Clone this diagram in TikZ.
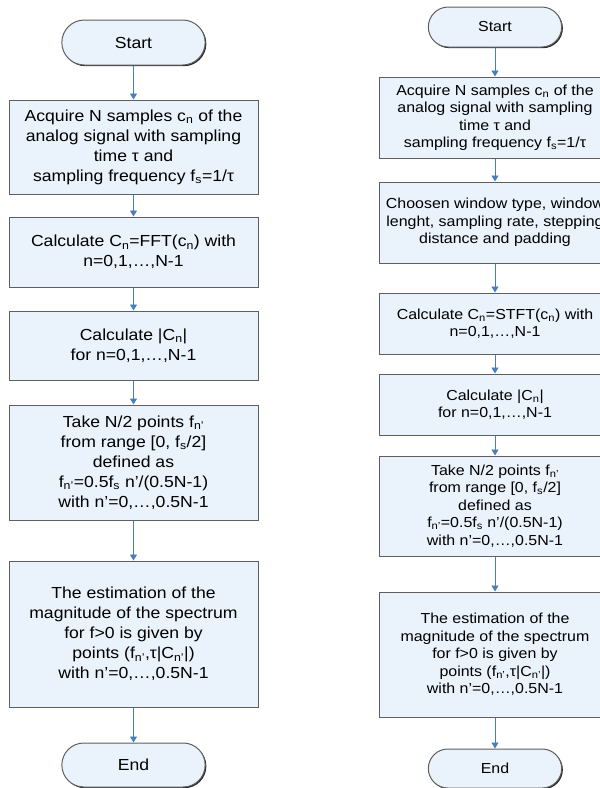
\documentclass[tikz,border=0pt]{standalone}
\usepackage{fontspec}
\setmainfont[FakeStretch=1.1]{Liberation Sans}
\usepackage{tikz}
\usetikzlibrary{shapes.misc,arrows.meta,shadows}

\definecolor{boxfill}{RGB}{234,242,252}
\definecolor{boxline}{RGB}{95,95,95}
\definecolor{boxshade}{RGB}{40,40,40}
\definecolor{arrowblue}{RGB}{74,126,187}

\tikzset{
  procbox/.style={draw=boxline,line width=1pt,fill=boxfill,align=center,
    inner xsep=2pt,
    drop shadow={shadow xshift=1.2pt,shadow yshift=-1.2pt,fill=boxshade,opacity=1}},
  termbox/.style={draw=boxline,line width=1pt,fill=boxfill,rounded rectangle,
    align=center,
    drop shadow={shadow xshift=1.2pt,shadow yshift=-1.2pt,fill=boxshade,opacity=1}},
  flowarrow/.style={draw=arrowblue,line width=0.9pt,
    -{Triangle[width=7pt,length=6pt]}},
  lefttext/.style={font=\fontsize{16}{20}\selectfont},
  righttext/.style={font=\fontsize{14.5}{17.5}\selectfont}
}

\begin{document}
\begin{tikzpicture}[x=1pt,y=-1pt]
  \useasboundingbox (0,0) rectangle (600,788);
  \clip (0,0) rectangle (600,788);

  %% Left flowchart: FFT
  \node[termbox,lefttext,minimum width=150,minimum height=45] (LS) at (133.5,42.5) {Start};
  \node[procbox,lefttext,minimum width=249,minimum height=94] (L1) at (133.5,147)
    {Acquire N samples c\textsubscript{n} of the\\analog signal with sampling\\time τ and\\sampling frequency f\textsubscript{s}=1/τ};
  \node[procbox,lefttext,minimum width=249,minimum height=70] (L2) at (133.5,252)
    {Calculate C\textsubscript{n}=FFT(c\textsubscript{n}) with\\n=0,1,…,N-1};
  \node[procbox,lefttext,minimum width=249,minimum height=69] (L3) at (133.5,345.5)
    {Calculate |C\textsubscript{n}|\\for n=0,1,…,N-1};
  \node[procbox,lefttext,minimum width=249,minimum height=115] (L4) at (133.5,462.5)
    {Take N/2 points f\textsubscript{n'}\\from range [0, f\textsubscript{s}/2]\\defined as\\f\textsubscript{n'}=0.5f\textsubscript{s} n'/(0.5N-1)\\with n'=0,…,0.5N-1};
  \node[procbox,lefttext,minimum width=249,minimum height=146] (L5) at (133.5,634)
    {The estimation of the\\magnitude of the spectrum\\for f>0 is given by\\points (f\textsubscript{n'},τ|C\textsubscript{n'}|)\\with n'=0,…,0.5N-1};
  \node[termbox,lefttext,minimum width=150,minimum height=44] (LE) at (133.5,765) {End};

  %% Right flowchart: STFT
  \node[termbox,righttext,minimum width=140,minimum height=40] (RS) at (495,27) {Start};
  \node[procbox,righttext,minimum width=232,minimum height=81] (R1) at (495,117.5)
    {Acquire N samples c\textsubscript{n} of the\\analog signal with sampling\\time τ and\\sampling frequency f\textsubscript{s}=1/τ};
  \node[procbox,righttext,minimum width=232,minimum height=81] (R2) at (495,222.5)
    {Choosen window type, window\\lenght, sampling rate, stepping\\distance and padding};
  \node[procbox,righttext,minimum width=232,minimum height=61] (R3) at (495,323.5)
    {Calculate C\textsubscript{n}=STFT(c\textsubscript{n}) with\\n=0,1,…,N-1};
  \node[procbox,righttext,minimum width=232,minimum height=61] (R4) at (495,404.5)
    {Calculate |C\textsubscript{n}|\\for n=0,1,…,N-1};
  \node[procbox,righttext,minimum width=232,minimum height=100] (R5) at (495,506)
    {Take N/2 points f\textsubscript{n'}\\from range [0, f\textsubscript{s}/2]\\defined as\\f\textsubscript{n'}=0.5f\textsubscript{s} n'/(0.5N-1)\\with n'=0,…,0.5N-1};
  \node[procbox,righttext,minimum width=232,minimum height=125] (R6) at (495,654.5)
    {The estimation of the\\magnitude of the spectrum\\for f>0 is given by\\points (f\textsubscript{n'},τ|C\textsubscript{n'}|)\\with n'=0,…,0.5N-1};
  \node[termbox,righttext,minimum width=140,minimum height=39] (RE) at (495,768.5) {End};

  %% Connectors
  \foreach \a/\b in {LS/L1,L1/L2,L2/L3,L3/L4,L4/L5,L5/LE,
                     RS/R1,R1/R2,R2/R3,R3/R4,R4/R5,R5/R6,R6/RE}
  {
    \draw[flowarrow] (\a.south) -- (\b.north);
  }
\end{tikzpicture}
\end{document}
